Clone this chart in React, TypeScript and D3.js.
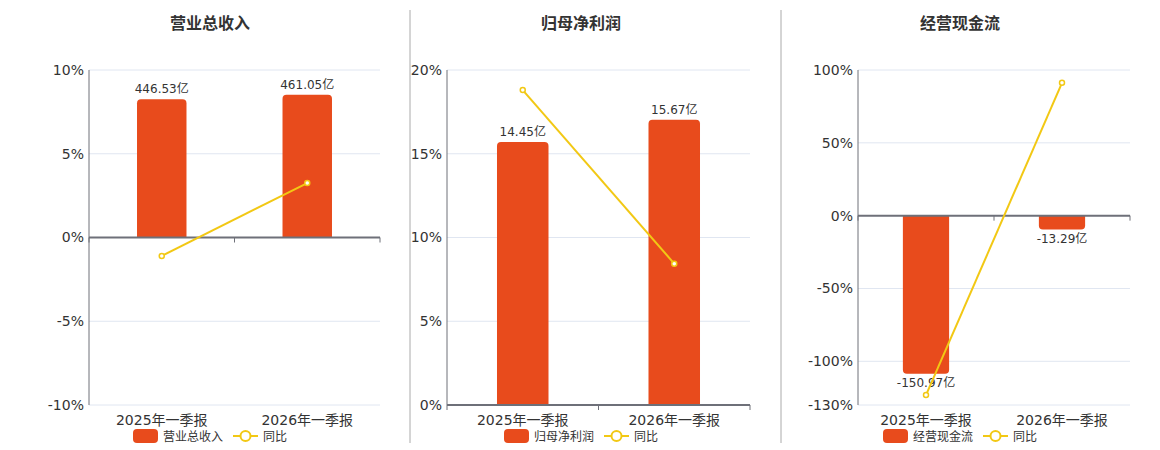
import { useEffect } from "react";
import * as d3 from "d3";

// 数据
const categories = ["2025年一季报", "2026年一季报"];

const revenue = [446.53, 461.05];
const revenueYoY = [-1.1, 3.25];
const revenueTicks = [10, 5, 0, -5, -10];

const netProfit = [14.45, 15.67];
const netProfitYoY = [18.8, 8.44];
const netProfitTicks = [20, 15, 10, 5, 0];

const cashFlow = [-150.97, -13.29];
const cashFlowYoY = [-123.2, 91.2];
const cashFlowTicks = [100, 50, 0, -50, -100, -130];

const BAR = "#E84B1C";
const LINE = "#F2C814";
const FONT = "'DejaVu Sans', 'Noto Sans CJK SC', sans-serif";
const CJK = "'Noto Sans CJK SC', 'DejaVu Sans', sans-serif";

type PanelProps = {
  title: string;
  bars: number[];
  yoy: number[];
  ticks: number[];
  barDomain: [number, number];
  left: number;
  right: number;
  center: number;
};

const TOP = 70;
const BOTTOM = 405;

function barPath(x: number, w: number, y0: number, y1: number) {
  const h = Math.abs(y1 - y0);
  const r = Math.min(4, h / 2, w / 2);
  const s = y1 < y0 ? 1 : -1; // 1 表示向上
  return `M${x},${y0}V${y1 + s * r}Q${x},${y1} ${x + r},${y1}H${x + w - r}Q${x + w},${y1} ${x + w},${y1 + s * r}V${y0}Z`;
}

const Panel = ({ title, bars, yoy, ticks, barDomain, left, right, center }: PanelProps) => {
  const x = d3.scaleBand().domain(categories).range([left, right]).padding(0);
  const y = d3
    .scaleLinear()
    .domain([d3.min(ticks)!, d3.max(ticks)!])
    .range([BOTTOM, TOP]);
  const yBar = d3.scaleLinear().domain(barDomain).range([BOTTOM, TOP]);
  const zero = y(0);
  const bw = x.bandwidth() * 0.34;

  const line = d3
    .line<number>()
    .x((_, i) => x(categories[i])! + x.bandwidth() / 2)
    .y((d) => y(d));

  const legendW = 25 + 5 + title.length * 12 + 10 + 25 + 5 + 24;
  const lx = center - legendW / 2;

  return (
    <g>
      <text x={center} y={29} textAnchor="middle" fontFamily={CJK} fontSize={16} fontWeight="bold" fill="#333">
        {title}
      </text>
      {/* 网格线 */}
      {ticks.map((t) => (
        <g key={t}>
          <line x1={left} x2={right} y1={y(t)} y2={y(t)} stroke="#E0E6F1" />
          <text x={left - 5} y={y(t)} dy="0.35em" textAnchor="end" fontFamily={FONT} fontSize={14} fill="#333">
            {t}%
          </text>
        </g>
      ))}
      <line x1={left} x2={left} y1={TOP} y2={BOTTOM} stroke="#6E7079" />
      {/* 柱 */}
      {bars.map((v, i) => {
        const bx = x(categories[i])! + (x.bandwidth() - bw) / 2;
        const yv = yBar(v);
        const y0 = yBar(0);
        return (
          <g key={i}>
            <path d={barPath(bx, bw, y0, yv)} fill={BAR} />
            <text
              x={bx + bw / 2}
              y={v >= 0 ? yv - 6 : yv + 4}
              dy={v >= 0 ? 0 : "0.8em"}
              textAnchor="middle"
              fontFamily={FONT}
              fontSize={12}
              fill="#333"
            >
              {v.toFixed(2)}亿
            </text>
          </g>
        );
      })}
      {/* x 轴 */}
      <line x1={left} x2={right} y1={zero} y2={zero} stroke="#6E7079" strokeWidth={2} />
      {[...categories.map((c) => x(c)!), right].map((tx, i) => (
        <line key={i} x1={tx} x2={tx} y1={zero} y2={zero + 5} stroke="#6E7079" />
      ))}
      {categories.map((c) => (
        <text key={c} x={x(c)! + x.bandwidth() / 2} y={425} textAnchor="middle" fontFamily={FONT} fontSize={14} fill="#333">
          {c}
        </text>
      ))}
      {/* 折线 */}
      <path d={line(yoy)!} fill="none" stroke={LINE} strokeWidth={2} />
      {yoy.map((v, i) => (
        <circle key={i} cx={x(categories[i])! + x.bandwidth() / 2} cy={y(v)} r={2.5} fill="#fff" stroke={LINE} strokeWidth={1.5} />
      ))}
      {/* 图例 */}
      <rect x={lx} y={429} width={25} height={14} rx={4} fill={BAR} />
      <text x={lx + 30} y={441} fontFamily={CJK} fontSize={12} fill="#333">
        {title}
      </text>
      <g transform={`translate(${lx + 30 + title.length * 12 + 10},436)`}>
        <line x1={0} x2={25} y1={0} y2={0} stroke={LINE} strokeWidth={2} />
        <circle cx={12.5} cy={0} r={5} fill="#fff" stroke={LINE} strokeWidth={2} />
        <text x={30} y={5} fontFamily={CJK} fontSize={12} fill="#333">
          同比
        </text>
      </g>
    </g>
  );
};

const App = () => {
  useEffect(() => {
    document.body.style.margin = "0";
  }, []);

  return (
    <svg width={1160} height={450} style={{ display: "block" }}>
      <line x1={410} x2={410} y1={10} y2={443} stroke="#AAA" />
      <line x1={781} x2={781} y1={10} y2={443} stroke="#AAA" />
      <Panel title="营业总收入" bars={revenue} yoy={revenueYoY} ticks={revenueTicks} barDomain={[-541, 541]} left={89} right={380} center={210} />
      <Panel title="归母净利润" bars={netProfit} yoy={netProfitYoY} ticks={netProfitTicks} barDomain={[0, 18.4]} left={447} right={750} center={581} />
      <Panel title="经营现金流" bars={cashFlow} yoy={cashFlowYoY} ticks={cashFlowTicks} barDomain={[-180.7, 138.9]} left={858} right={1130} center={960} />
    </svg>
  );
};

export default App;
